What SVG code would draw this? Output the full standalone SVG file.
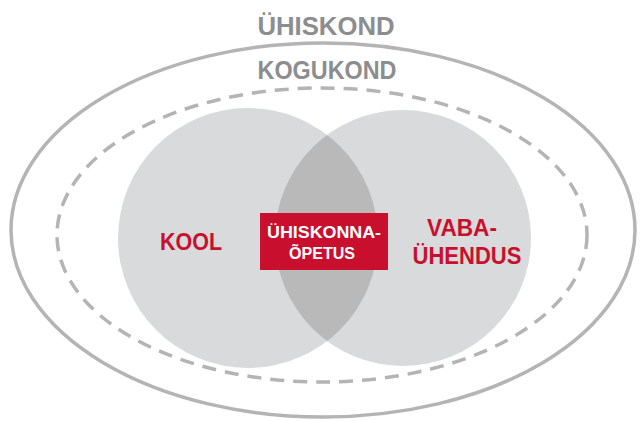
<svg xmlns="http://www.w3.org/2000/svg" width="641" height="421" viewBox="0 0 641 421">
<style>
.ring{fill:none;stroke:#b4b4b5;stroke-width:3.5}
.dash{stroke-dasharray:14 9}
.circ{fill:#d9dadb}
.gt{font-family:"Liberation Sans",Arial,sans-serif;font-weight:bold;fill:#8c8d8f;font-size:25px}
.rt{font-family:"Liberation Sans",Arial,sans-serif;font-weight:bold;fill:#c8102e;font-size:24px}
.wt{font-family:"Liberation Sans",Arial,sans-serif;font-weight:bold;fill:#ffffff;font-size:16px}
</style>
<defs>
<clipPath id="cl"><circle cx="248" cy="238" r="130"/></clipPath>
</defs>
<rect width="641" height="421" fill="#ffffff"/>
<g id="yhiskond">
<ellipse class="ring" cx="323" cy="230" rx="312" ry="187"/>
<text class="gt" x="326" y="35" text-anchor="middle" textLength="137" lengthAdjust="spacingAndGlyphs">ÜHISKOND</text>
</g>
<g id="kogukond">
<ellipse class="ring dash" cx="322" cy="235" rx="265" ry="147"/>
<text class="gt" x="327" y="79" text-anchor="middle" textLength="139" lengthAdjust="spacingAndGlyphs">KOGUKOND</text>
</g>
<g id="kool">
<circle class="circ" cx="248" cy="238" r="130"/>
<text class="rt" x="191" y="250" text-anchor="middle" textLength="62" lengthAdjust="spacingAndGlyphs">KOOL</text>
</g>
<g id="vabayhendus">
<circle class="circ" cx="403" cy="238" r="128"/>
<circle cx="403" cy="238" r="128" fill="#b9b9ba" clip-path="url(#cl)"/>
<text class="rt" x="462" y="236" text-anchor="middle" textLength="70" lengthAdjust="spacingAndGlyphs">VABA-</text>
<text class="rt" x="467" y="264" text-anchor="middle" textLength="109" lengthAdjust="spacingAndGlyphs">ÜHENDUS</text>
</g>
<g id="yhiskonnaopetus">
<rect x="260" y="213" width="128" height="57" fill="#c8102e"/>
<text class="wt" x="324" y="238" text-anchor="middle" textLength="114" lengthAdjust="spacingAndGlyphs">ÜHISKONNA-</text>
<text class="wt" x="322" y="259" text-anchor="middle" textLength="66" lengthAdjust="spacingAndGlyphs">ÕPETUS</text>
</g>
<g id="connectors"></g>
</svg>
